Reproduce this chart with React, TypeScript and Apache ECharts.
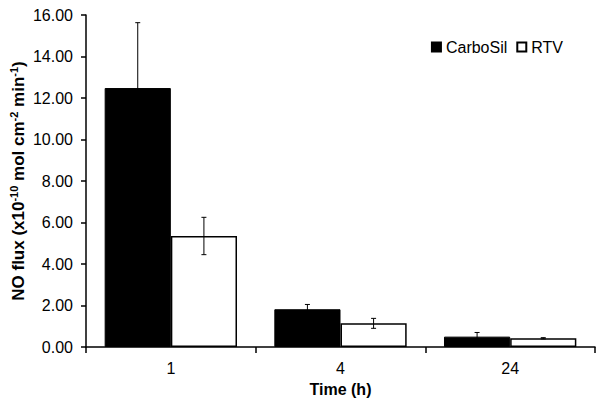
import React, { useEffect, useRef } from "react";
import * as echarts from "echarts";

const categories = ["1", "4", "24"];
const carboSil = [12.48, 1.82, 0.5];
const carboSilErr = [3.15, 0.23, 0.2];
const rtv = [5.35, 1.14, 0.42];
const rtvErr = [0.9, 0.24, 0.03];
const seriesNames = ["CarboSil", "RTV"];

const FONT = "'Liberation Sans', Arial, sans-serif";
const CAT_GAP = 0.22;

function errorSeries(values: number[], errs: number[], side: number) {
  return {
    type: "custom",
    silent: true,
    z: 10,
    data: values.map((v, i) => [i, v, errs[i]]),
    renderItem: (params: any, api: any) => {
      const i = api.value(0);
      const v = api.value(1);
      const e = api.value(2);
      const band = api.size([1, 0])[0];
      const bw = (band * (1 - CAT_GAP)) / 2;
      const c = api.coord([i, v]);
      const x = c[0] + (side * bw) / 2;
      const hi = api.coord([i, v + e])[1];
      const lo = api.coord([i, v - e])[1];
      const cap = 2.5;
      const style = { stroke: "#000", lineWidth: 1 };
      return {
        type: "group",
        children: [
          { type: "line", shape: { x1: x, y1: hi, x2: x, y2: lo }, style },
          { type: "line", shape: { x1: x - cap, y1: hi, x2: x + cap, y2: hi }, style },
          { type: "line", shape: { x1: x - cap, y1: lo, x2: x + cap, y2: lo }, style },
        ],
      };
    },
  };
}

export default function App() {
  const ref = useRef<HTMLDivElement>(null);
  useEffect(() => {
    if (!ref.current) return;
    const chart = echarts.init(ref.current, undefined, { renderer: "svg" });
    chart.setOption({
      animation: false,
      textStyle: { fontFamily: FONT, color: "#000" },
      grid: { left: 86, right: 9, top: 15, bottom: 61, containLabel: false, outerBoundsMode: "none" },
      legend: {
        data: seriesNames,
        right: 36,
        top: 34,
        icon: "rect",
        itemWidth: 9,
        itemHeight: 9,
        itemGap: 9,
        textStyle: { fontFamily: FONT, fontSize: 16, color: "#000" },
      },
      xAxis: {
        type: "category",
        data: categories,
        name: "Time (h)",
        nameLocation: "middle",
        nameGap: 34,
        nameMoveOverlap: false,
        nameTextStyle: { fontFamily: FONT, fontSize: 16, fontWeight: "bold", color: "#000" },
        axisLine: { lineStyle: { color: "#000", width: 1.5 } },
        axisTick: { show: true, length: 6, lineStyle: { color: "#000", width: 1.5 } },
        axisLabel: { fontFamily: FONT, fontSize: 16, color: "#000", margin: 13 },
      },
      yAxis: {
        type: "value",
        min: 0,
        max: 16,
        interval: 2,
        name: "{b|NO flux (x10}{s|-10}{b| mol cm}{s|-2}{b| min}{s|-1}{b|)}",
        nameLocation: "middle",
        nameGap: 58,
        nameMoveOverlap: false,
        nameTextStyle: {
          rich: {
            b: { fontFamily: FONT, fontSize: 17, fontWeight: "bold", color: "#000", lineHeight: 20 },
            s: { fontFamily: FONT, fontSize: 11, fontWeight: "bold", color: "#000", verticalAlign: "top", lineHeight: 20 },
          },
        },
        splitLine: { show: false },
        axisLine: { show: true, lineStyle: { color: "#000", width: 1.5 } },
        axisTick: { show: true, length: 5, lineStyle: { color: "#000", width: 1.5 } },
        axisLabel: {
          fontFamily: FONT,
          fontSize: 16,
          color: "#000",
          margin: 13,
          formatter: (v: number) => v.toFixed(2),
        },
      },
      series: [
        {
          name: seriesNames[0],
          type: "bar",
          data: carboSil,
          barGap: "0%",
          barCategoryGap: CAT_GAP * 100 + "%",
          itemStyle: { color: "#000", borderColor: "#000", borderWidth: 1 },
        },
        {
          name: seriesNames[1],
          type: "bar",
          data: rtv,
          barGap: "0%",
          barCategoryGap: CAT_GAP * 100 + "%",
          itemStyle: { color: "#fff", borderColor: "#000", borderWidth: 1.5 },
        },
        errorSeries(carboSil, carboSilErr, -1),
        errorSeries(rtv, rtvErr, 1),
      ],
    });
    return () => chart.dispose();
  }, []);
  return <div ref={ref} style={{ width: 604, height: 408, margin: -8 }} />;
}
